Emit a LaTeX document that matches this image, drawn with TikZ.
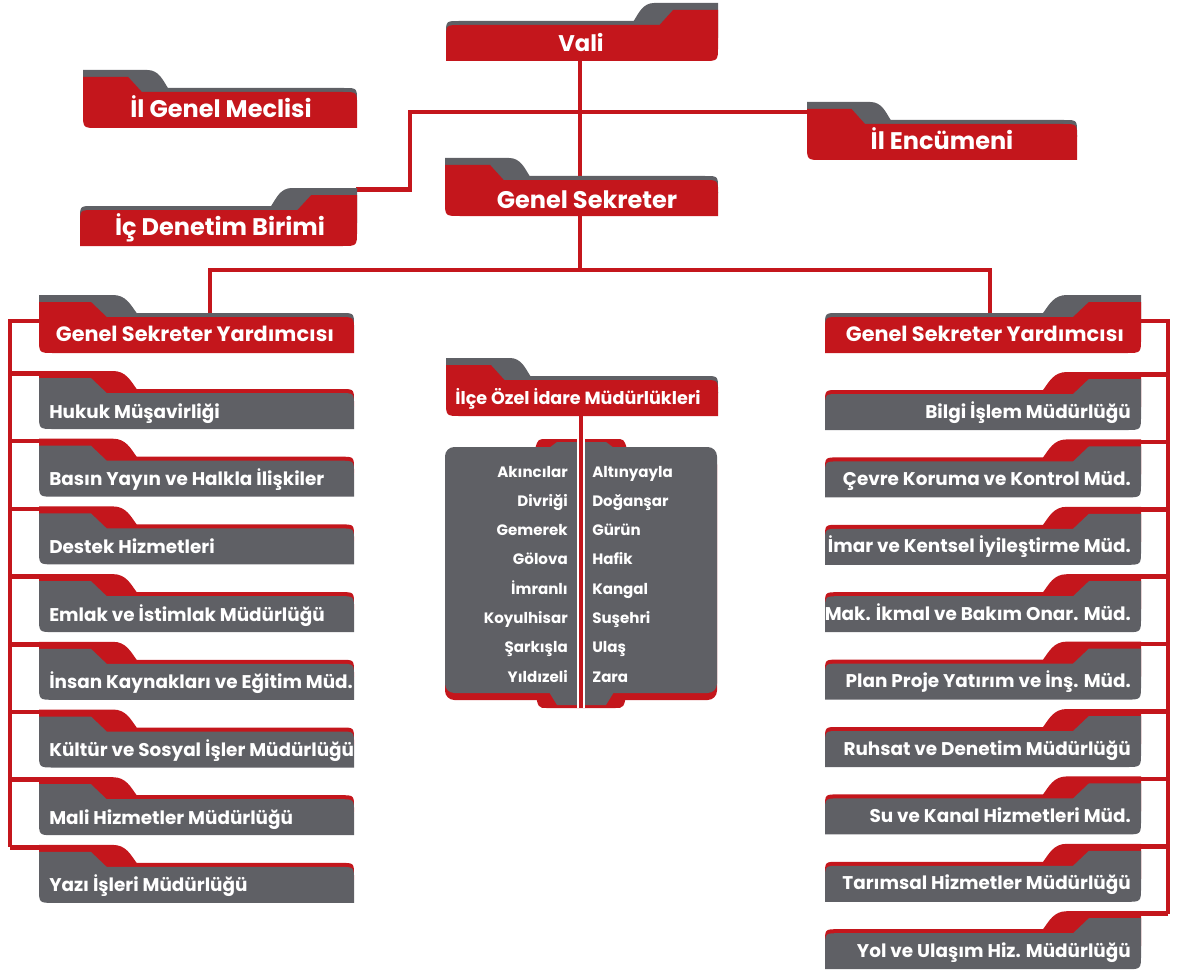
\documentclass[tikz,border=0pt]{standalone}
\usepackage{fontspec}
\setmainfont{Poppins}
\definecolor{ored}{RGB}{196,22,28}
\definecolor{ogray}{RGB}{95,96,101}
\tikzset{
 conn/.style={draw=ored, line width=3.4pt},
 lbl/.style={text=white, inner sep=0pt},
 bigt/.style={lbl, anchor=base, font=\bfseries\fontsize{18}{18}\selectfont},
 valit/.style={lbl, anchor=base, font=\bfseries\fontsize{17}{17}\selectfont},
 gsyt/.style={lbl, anchor=base, font=\bfseries\fontsize{15.6}{15.6}\selectfont},
 ilcet/.style={lbl, anchor=base, font=\bfseries\fontsize{13.2}{13.2}\selectfont},
 itemL/.style={lbl, anchor=base west, font=\bfseries\fontsize{13.8}{13.8}\selectfont},
 itemR/.style={lbl, anchor=base east, font=\bfseries\fontsize{13.8}{13.8}\selectfont},
 distL/.style={lbl, anchor=base east, font=\bfseries\fontsize{11.3}{11.3}\selectfont},
 distR/.style={lbl, anchor=base west, font=\bfseries\fontsize{11.3}{11.3}\selectfont},
}
% folder with tab on the right: L R T back front
\newcommand{\folderR}[5]{%
 \pgfmathsetmacro\fw{#2-(#1)}%
 \pgfmathsetmacro\xa{#2-0.31*\fw}%
 \pgfmathsetmacro\xb{#2-0.235*\fw}%
 \pgfmathsetmacro\xc{#2-0.215*\fw}%
 \pgfmathsetmacro\xd{#2-0.165*\fw}%
 \pgfmathsetmacro\ca{\xa+0.25*(\xb-\xa)}%
 \pgfmathsetmacro\cb{\xa+0.45*(\xb-\xa)}%
 \fill[#4] (#1,#3+35) -- (#1,#3+31) .. controls (#1,#3+18) .. (#1+13,#3+18) -- (\xa,#3+18) .. controls (\ca,#3+10) and (\cb,#3) .. (\xb,#3) -- (#2,#3) -- (#2,#3+35) -- cycle;
 \fill[#5] (#1,#3+58) -- (#1,#3+36) .. controls (#1,#3+22) .. (#1+14,#3+22) -- (\xc,#3+22) -- (\xd,#3+7) -- (#2,#3+7) -- (#2,#3+43) .. controls (#2,#3+58) .. (#2-15,#3+58) -- cycle;
}
% folder with tab on the left
\newcommand{\folderL}[5]{%
 \pgfmathsetmacro\fw{#2-(#1)}%
 \pgfmathsetmacro\xa{#1+0.31*\fw}%
 \pgfmathsetmacro\xb{#1+0.235*\fw}%
 \pgfmathsetmacro\xc{#1+0.215*\fw}%
 \pgfmathsetmacro\xd{#1+0.165*\fw}%
 \pgfmathsetmacro\ca{\xa-0.25*(\xa-\xb)}%
 \pgfmathsetmacro\cb{\xa-0.45*(\xa-\xb)}%
 \fill[#4] (#2,#3+35) -- (#2,#3+31) .. controls (#2,#3+18) .. (#2-13,#3+18) -- (\xa,#3+18) .. controls (\ca,#3+10) and (\cb,#3) .. (\xb,#3) -- (#1,#3) -- (#1,#3+35) -- cycle;
 \fill[#5] (#2,#3+58) -- (#2,#3+36) .. controls (#2,#3+22) .. (#2-14,#3+22) -- (\xc,#3+22) -- (\xd,#3+7) -- (#1,#3+7) -- (#1,#3+43) .. controls (#1,#3+58) .. (#1+15,#3+58) -- cycle;
}
\begin{document}
\begin{tikzpicture}[x=0.75pt,y=-0.75pt]
\useasboundingbox (0,0) rectangle (1177,970);
% ---------- named connector points
\coordinate (valiS) at (580,60);
\coordinate (jMid) at (580,270);
\coordinate (encW) at (808,112);
\coordinate (bendA) at (410,112);
\coordinate (bendB) at (410,189.5);
\coordinate (icdE) at (356,189.5);
\coordinate (jL) at (210,270);
\coordinate (jR) at (990,270);
\coordinate (gsyLN) at (210,315);
\coordinate (gsyRN) at (990,318);
\coordinate (gsyLW) at (40,321);
\coordinate (gsyRE) at (1140,321);
\coordinate (ilceS) at (581,414);
\coordinate (ilceW) at (581,421);
\coordinate (panelS) at (581,708);
% ---------- connectors
\draw[conn] (valiS) -- (jMid);
\draw[conn] (icdE) -- (bendB) -- (bendA) -- (encW);
\draw[conn] (gsyLN) -- (jL) -- (jR) -- (gsyRN);
\foreach \i in {0,...,7}{
  \pgfmathsetmacro\T{371+67.7*\i+2.5}
  \coordinate (busL\i) at (10,\T);
  \coordinate (itL\i) at (60,\T);
  \draw[conn] (busL\i) -- (itL\i);
}
\coordinate (busLtop) at (10,321);
\draw[conn] (gsyLW) -- (busLtop) -- (busL7);
\foreach \i in {0,...,8}{
  \pgfmathsetmacro\T{372+67.4*\i+2.5}
  \coordinate (busR\i) at (1168,\T);
  \coordinate (itR\i) at (1120,\T);
  \draw[conn] (busR\i) -- (itR\i);
}
\coordinate (busRtop) at (1168,321);
\draw[conn] (gsyRE) -- (busRtop) -- (busR8);
% ---------- top boxes
\folderR{446}{718}{3}{ogray}{ored}
\node[valit] (vali) at (581,52) {Vali};
\folderL{83}{357}{70}{ogray}{ored}
\node[bigt] (meclis) at (221,118) {İl Genel Meclisi};
\folderR{80}{357}{188}{ogray}{ored}
\node[bigt] (icd) at (220,235) {İç Denetim Birimi};
\folderL{807}{1077}{102}{ogray}{ored}
\node[bigt] (enc) at (942,150) {İl Encümeni};
\folderL{445}{718}{158}{ogray}{ored}
\node[bigt] (gs) at (587,208) {Genel Sekreter};
\folderL{39}{354}{295}{ogray}{ored}
\node[gsyt] (gsyL) at (195,341) {Genel Sekreter Yardımcısı};
\folderR{825}{1141}{295}{ogray}{ored}
\node[gsyt] (gsyR) at (985,341) {Genel Sekreter Yardımcısı};
\folderL{446}{718}{358}{ogray}{ored}
\node[ilcet] (ilce) at (578,404) {İlçe Özel İdare Müdürlükleri};
% ---------- left items
\foreach \t [count=\i from 0] in {Hukuk Müşavirliği,Basın Yayın ve Halkla İlişkiler,Destek Hizmetleri,Emlak ve İstimlak Müdürlüğü,İnsan Kaynakları ve Eğitim Müd.,Kültür ve Sosyal İşler Müdürlüğü,Mali Hizmetler Müdürlüğü,Yazı İşleri Müdürlüğü}{
  \pgfmathsetmacro\T{371+67.7*\i}
  \folderL{39}{354}{\T}{ored}{ogray}
  \node[itemL] (left\i) at (49,\T+47) {\t};
}
% ---------- right items
\foreach \t [count=\i from 0] in {Bilgi İşlem Müdürlüğü,Çevre Koruma ve Kontrol Müd.,İmar ve Kentsel İyileştirme Müd.,Mak. İkmal ve Bakım Onar. Müd.,Plan Proje Yatırım ve İnş. Müd.,Ruhsat ve Denetim Müdürlüğü,Su ve Kanal Hizmetleri Müd.,Tarımsal Hizmetler Müdürlüğü,Yol ve Ulaşım Hiz. Müdürlüğü}{
  \pgfmathsetmacro\T{372+67.4*\i}
  \folderR{825}{1141}{\T}{ored}{ogray}
  \node[itemR] (right\i) at (1131,\T+46) {\t};
}
% ---------- district panel
\fill[ored, rounded corners=7pt] (445,455) rectangle (717,700);
\fill[ored] (535,449) .. controls (538,439) .. (547,439) -- (615,439) .. controls (624,439) .. (627,449) -- cycle;
\fill[ored] (535,690) .. controls (538,708) .. (547,708) -- (615,708) .. controls (624,708) .. (627,690) -- cycle;
\fill[ogray, rounded corners=7pt] (445,447) rectangle (717,693);
\fill[ogray] (549,448) -- (557,442) -- (606,442) -- (614,448) -- cycle;
\fill[ogray] (549,692) -- (557,705) -- (606,705) -- (614,692) -- cycle;
\draw[white, line width=5.6pt] (ilceW) -- (panelS);
\draw[conn] (ilceS) -- (panelS);
\foreach \a/\b [count=\i from 0] in {Akıncılar/Altınyayla,Divriği/Doğanşar,Gemerek/Gürün,Gölova/Hafik,İmranlı/Kangal,Koyulhisar/Suşehri,Şarkışla/Ulaş,Yıldızeli/Zara}{
  \pgfmathsetmacro\y{477+29.3*\i}
  \node[distL] (dl\i) at (568,\y) {\a};
  \node[distR] (dr\i) at (592,\y) {\b};
}
\end{tikzpicture}
\end{document}
